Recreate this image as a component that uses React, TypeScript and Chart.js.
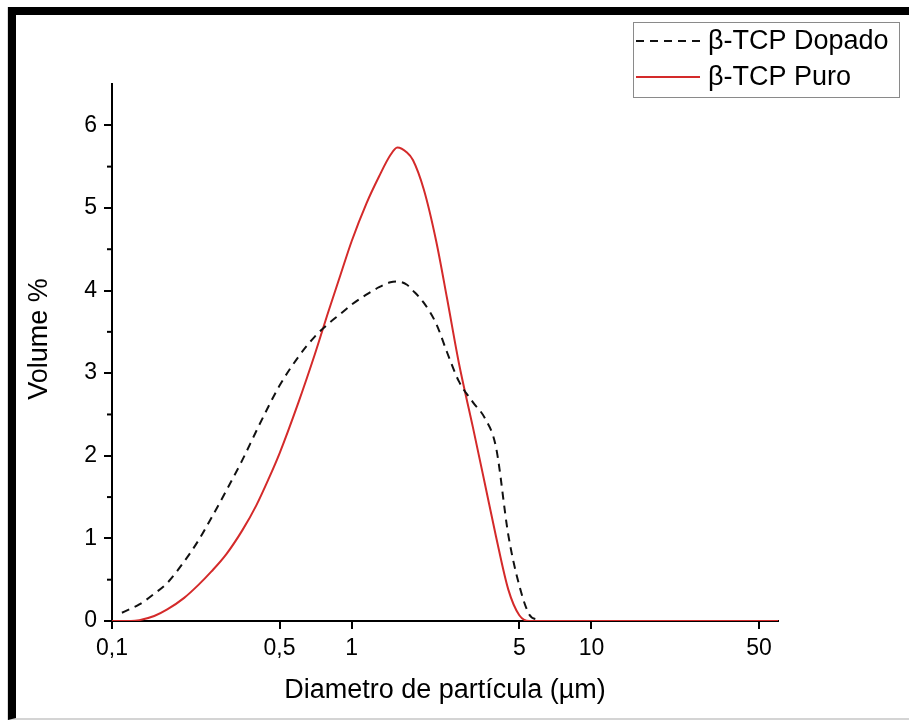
import { useEffect, useRef } from "react";
import { Chart, registerables } from "chart.js";

Chart.register(...registerables);

// Particle diameter (µm)
const sizes = [0.1, 0.11, 0.12, 0.13, 0.15, 0.17, 0.2, 0.23, 0.26, 0.3, 0.35, 0.4, 0.45, 0.5, 0.6, 0.7, 0.8, 0.9, 1.0, 1.15, 1.3, 1.45, 1.55, 1.7, 1.8, 2.0, 2.25, 2.5, 2.8, 3.2, 3.6, 4.0, 4.5, 5.0, 5.5, 6.0, 7, 10, 20, 40, 60];

// Volume % — β-TCP Dopado (dashed black)
const dopado = [null, 0.1, 0.15, 0.2, 0.33, 0.46, 0.72, 0.98, 1.25, 1.58, 1.95, 2.3, 2.6, 2.85, 3.2, 3.44, 3.6, 3.72, 3.83, 3.95, 4.04, 4.1, 4.11, 4.07, 4.0, 3.85, 3.6, 3.25, 2.9, 2.65, 2.45, 2.1, 1.04, 0.43, 0.08, 0.01, null, null, null, null, null];

// Volume % — β-TCP Puro (solid red)
const puro = [0, 0, 0, 0.01, 0.06, 0.14, 0.28, 0.44, 0.6, 0.81, 1.1, 1.4, 1.72, 2.03, 2.65, 3.22, 3.75, 4.2, 4.6, 5.05, 5.38, 5.64, 5.73, 5.67, 5.58, 5.22, 4.6, 3.9, 3.12, 2.35, 1.65, 1.02, 0.38, 0.07, 0, 0, 0, 0, 0, 0, 0];

const xTicks = [0.1, 0.5, 1, 5, 10, 50];
const yTicks = [0, 1, 2, 3, 4, 5, 6];
const yMinorTicks = [0.5, 1.5, 2.5, 3.5, 4.5, 5.5];

const seriesLabels = ["β-TCP Dopado", "β-TCP Puro"];
const xTitle = "Diametro de partícula (µm)";
const yTitle = "Volume %";
const FONT = '"Liberation Sans", Arial, sans-serif';

const minorTickPlugin = {
  id: "minorTicks",
  afterDraw(chart: any) {
    const y = chart.scales.y;
    const ctx = chart.ctx;
    ctx.save();
    ctx.strokeStyle = "#000";
    ctx.lineWidth = 2;
    yMinorTicks.forEach((v) => {
      const p = y.getPixelForValue(v);
      ctx.beginPath();
      ctx.moveTo(y.right - 5, p);
      ctx.lineTo(y.right, p);
      ctx.stroke();
    });
    ctx.restore();
  },
};

const yTitlePlugin = {
  id: "yTitle",
  afterDraw(chart: any) {
    const ctx = chart.ctx;
    ctx.save();
    ctx.translate(24, 324);
    ctx.rotate(-Math.PI / 2);
    ctx.font = "27px " + FONT;
    ctx.fillStyle = "#000";
    ctx.textAlign = "center";
    ctx.textBaseline = "middle";
    ctx.fillText(yTitle, 0, 0);
    ctx.restore();
  },
};

const boxLegendPlugin = {
  id: "boxLegend",
  afterDraw(chart: any) {
    const ctx = chart.ctx;
    const bx = 617, by = 7, bw = 266, bh = 75;
    ctx.save();
    ctx.fillStyle = "#fff";
    ctx.fillRect(bx, by, bw, bh);
    ctx.strokeStyle = "#8a8a8a";
    ctx.lineWidth = 1;
    ctx.strokeRect(bx + 0.5, by + 0.5, bw, bh);
    chart.data.datasets.forEach((ds: any, i: number) => {
      const y = by + 19 + i * 36;
      ctx.beginPath();
      ctx.setLineDash(ds.borderDash || []);
      ctx.strokeStyle = ds.borderColor;
      ctx.lineWidth = 2;
      ctx.moveTo(bx + 3, y);
      ctx.lineTo(bx + 67, y);
      ctx.stroke();
      ctx.setLineDash([]);
      ctx.fillStyle = "#000";
      ctx.font = "27px " + FONT;
      ctx.textBaseline = "middle";
      ctx.textAlign = "left";
      ctx.fillText(ds.label, bx + 75, y + 1);
    });
    ctx.restore();
  },
};

export default function App() {
  const ref = useRef<HTMLCanvasElement | null>(null);

  useEffect(() => {
    if (!ref.current) return;
    Chart.defaults.font.family = FONT;
    Chart.defaults.color = "#000";
    const chart = new Chart(ref.current, {
      type: "line",
      data: {
        datasets: [
          {
            label: seriesLabels[0],
            data: sizes.map((x, i) => ({ x, y: dopado[i] })) as any,
            borderColor: "#111",
            borderWidth: 2,
            borderDash: [8, 6],
            pointRadius: 0,
            fill: false,
            cubicInterpolationMode: "monotone",
            spanGaps: false,
          },
          {
            label: seriesLabels[1],
            data: sizes.map((x, i) => ({ x, y: puro[i] })) as any,
            borderColor: "#d42a2a",
            borderWidth: 2,
            pointRadius: 0,
            fill: false,
            cubicInterpolationMode: "monotone",
          },
        ],
      },
      options: {
        animation: false,
        responsive: false,
        layout: { padding: { left: 0, right: 131, top: 69, bottom: 0 } },
        plugins: {
          legend: { display: false },
          tooltip: { enabled: false },
        },
        scales: {
          x: {
            type: "logarithmic",
            min: 0.1,
            max: 60,
            afterBuildTicks: (scale: any) => {
              scale.ticks = xTicks.map((v) => ({ value: v }));
            },
            afterFit: (scale: any) => {
              scale.height = 97;
            },
            ticks: {
              autoSkip: false,
              maxRotation: 0,
              padding: 6,
              font: { size: 23 },
              color: "#000",
              callback: (v: any) => String(v).replace(".", ","),
            },
            grid: {
              drawOnChartArea: false,
              drawTicks: true,
              tickLength: 8,
              color: "#000",
              lineWidth: 2,
            },
            border: { display: true, color: "#000", width: 2 },
            title: {
              display: true,
              text: xTitle,
              font: { size: 27 },
              color: "#000",
              padding: { top: 0, bottom: 11 },
            },
          },
          y: {
            type: "linear",
            min: 0,
            max: 6.5,
            afterBuildTicks: (scale: any) => {
              scale.ticks = yTicks.map((v) => ({ value: v }));
            },
            afterFit: (scale: any) => {
              scale.width = 96;
            },
            ticks: {
              padding: 7,
              font: { size: 23 },
              color: "#000",
            },
            grid: {
              drawOnChartArea: false,
              drawTicks: true,
              tickLength: 8,
              color: "#000",
              lineWidth: 2,
            },
            border: { display: true, color: "#000", width: 2 },
            title: { display: false },
          },
        },
      },
      plugins: [minorTickPlugin, yTitlePlugin, boxLegendPlugin],
    });
    return () => chart.destroy();
  }, []);

  return (
    <div
      style={{
        position: "fixed",
        left: 8,
        top: 7,
        width: 901,
        height: 713,
        boxSizing: "border-box",
        borderLeft: "8px solid #000",
        borderTop: "8px solid #000",
        borderBottom: "2px solid #d4d4d4",
        background: "#fff",
        boxShadow: "-1px 0 0 #dcdcdc",
      }}
    >
      <canvas ref={ref} width={893} height={703} style={{ display: "block", width: 893, height: 703 }} />
    </div>
  );
}
